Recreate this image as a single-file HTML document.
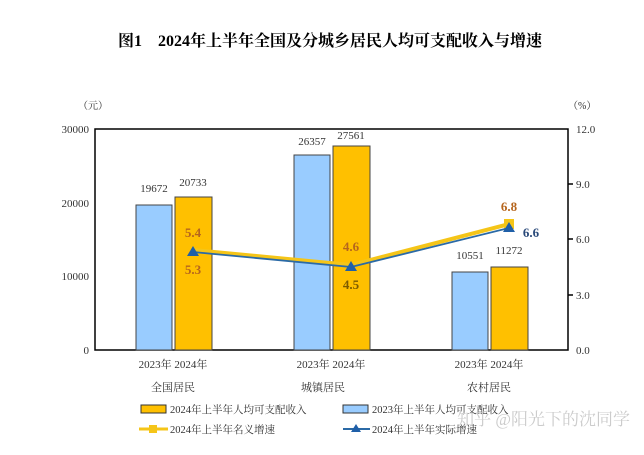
<!DOCTYPE html>
<html><head><meta charset="utf-8"><style>
body{margin:0;background:#fff;width:644px;height:450px;overflow:hidden}
svg text{font-family:"Liberation Serif","Noto Serif CJK SC",serif}
</style></head><body>
<svg width="644" height="450" xmlns="http://www.w3.org/2000/svg">
<text x="330" y="46" text-anchor="middle" font-size="16" font-weight="bold" fill="#000">图1　2024年上半年全国及分城乡居民人均可支配收入与增速</text>
<text x="78" y="109" font-size="10" fill="#333">（元）</text>
<text x="568" y="109" font-size="10" fill="#333">（%）</text>
<rect x="95" y="129" width="473" height="221" fill="none" stroke="#000" stroke-width="1.5"/>
<g font-size="11" fill="#333" text-anchor="end">
<text x="89" y="133">30000</text><text x="89" y="207">20000</text><text x="89" y="280">10000</text><text x="89" y="354">0</text>
</g>
<g stroke="#000" stroke-width="1.5"><line x1="568" y1="184" x2="573" y2="184"/><line x1="568" y1="239" x2="573" y2="239"/><line x1="568" y1="295" x2="573" y2="295"/></g>
<g font-size="11" fill="#333"><text x="576" y="133">12.0</text><text x="576" y="188">9.0</text><text x="576" y="243">6.0</text><text x="576" y="299">3.0</text><text x="576" y="354">0.0</text></g>
<g stroke="#444" stroke-width="1">
<rect x="136" y="205" width="36" height="145" fill="#99ccff"/>
<rect x="175" y="197" width="37" height="153" fill="#ffc000"/>
<rect x="294" y="155" width="36" height="195" fill="#99ccff"/>
<rect x="333" y="146" width="37" height="204" fill="#ffc000"/>
<rect x="452" y="272" width="36" height="78" fill="#99ccff"/>
<rect x="491" y="267" width="37" height="83" fill="#ffc000"/>
</g>
<g font-size="11" fill="#333" text-anchor="middle">
<text x="154" y="192">19672</text><text x="193" y="186">20733</text>
<text x="312" y="145">26357</text><text x="351" y="139">27561</text>
<text x="470" y="259">10551</text><text x="509" y="254">11272</text>
</g>
<polyline points="193,250 351,265 509,224" fill="none" stroke="#f5c518" stroke-width="4"/>
<rect x="504" y="219" width="10" height="10" fill="#f5c518"/>
<polyline points="193,252 351,267 509,228" fill="none" stroke="#2b6aa6" stroke-width="1.8"/>
<g fill="#1f5fa8"><polygon points="193,246 199,256 187,256"/><polygon points="351,261 357,271 345,271"/><polygon points="509,222 515,232 503,232"/></g>
<g font-size="13" font-weight="bold" text-anchor="middle">
<text x="193" y="237" fill="#b5651d">5.4</text><text x="193" y="274" fill="#b5651d">5.3</text>
<text x="351" y="251" fill="#b5651d">4.6</text><text x="351" y="289" fill="#7a5a00">4.5</text>
<text x="509" y="211" fill="#b5651d">6.8</text><text x="531" y="237" fill="#2a4a7a">6.6</text>
</g>
<g font-size="11" fill="#333" text-anchor="middle">
<text x="173" y="368">2023年 2024年</text><text x="331" y="368">2023年 2024年</text><text x="489" y="368">2023年 2024年</text>
<text x="173" y="391">全国居民</text><text x="323" y="391">城镇居民</text><text x="489" y="391">农村居民</text>
</g>
<rect x="141" y="405" width="25" height="8" fill="#ffc000" stroke="#333"/>
<rect x="343" y="405" width="25" height="8" fill="#99ccff" stroke="#333"/>
<line x1="139" y1="429" x2="168" y2="429" stroke="#f5c518" stroke-width="3"/><rect x="149" y="425" width="8" height="8" fill="#f5c518"/>
<line x1="343" y1="429" x2="370" y2="429" stroke="#2b6aa6" stroke-width="2"/><polygon points="356,424 361,432 351,432" fill="#1f5fa8"/>
<g font-size="10.5" fill="#333">
<text x="170" y="413">2024年上半年人均可支配收入</text><text x="372" y="413">2023年上半年人均可支配收入</text>
<text x="170" y="433">2024年上半年名义增速</text><text x="372" y="433">2024年上半年实际增速</text>
</g>
<text x="630" y="425" text-anchor="end" font-size="17" fill="#ccc" font-family="Liberation Sans,Noto Sans CJK SC,sans-serif">知乎 @阳光下的沈同学</text>
</svg>
</body></html>
